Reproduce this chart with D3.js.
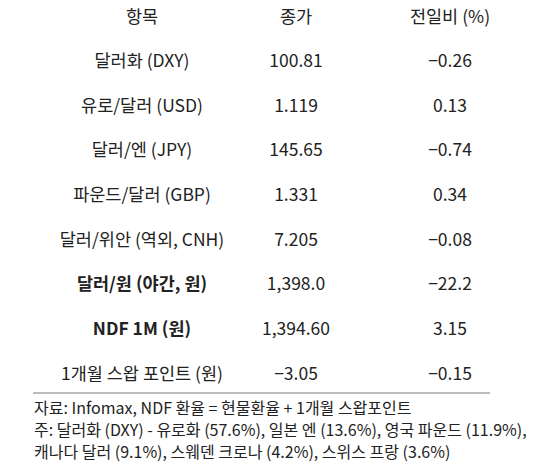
<!DOCTYPE html>
<html><head><meta charset="utf-8">
<script src="https://cdn.jsdelivr.net/npm/d3@7"></script>
<style>body{margin:0;background:#fff}</style>
</head><body><div id="chart"></div>
<script>
const headers = ["항목", "종가", "전일비 (%)"];
const items = ["달러화 (DXY)", "유로/달러 (USD)", "달러/엔 (JPY)", "파운드/달러 (GBP)", "달러/위안 (역외, CNH)", "달러/원 (야간, 원)", "NDF 1M (원)", "1개월 스왑 포인트 (원)"];
const closes = ["100.81", "1.119", "145.65", "1.331", "7.205", "1,398.0", "1,394.60", "\u22123.05"];
const changes = ["\u22120.26", "0.13", "\u22120.74", "0.34", "\u22120.08", "\u221222.2", "3.15", "\u22120.15"];
const boldRows = [5, 6];
const notes = [
	"자료: Infomax, NDF 환율 = 현물환율 + 1개월 스왑포인트",
	"주: 달러화 (DXY) - 유로화 (57.6%), 일본 엔 (13.6%), 영국 파운드 (11.9%),",
	"캐나다 달러 (9.1%), 스웨덴 크로나 (4.2%), 스위스 프랑 (3.6%)"
];

const width = 550, height = 462;
const svg = d3.select("#chart").append("svg")
	.attr("width", width).attr("height", height)
	.style("font-family", "'Noto Sans CJK KR', sans-serif");

const x = d3.scalePoint().domain([0, 1, 2]).range([142, 450]);
const y = d3.scaleLinear().domain([0, 8]).range([15, 372]);

svg.selectAll(".hdr").data(headers).join("text")
	.attr("x", (d, i) => x(i)).attr("y", y(0))
	.attr("text-anchor", "middle").attr("dominant-baseline", "central")
	.attr("font-size", 17.5).attr("fill", "#222").text(d => d);

const rows = items.map((d, i) => [d, closes[i], changes[i]]);
rows.forEach((r, ri) => {
	svg.selectAll(".r" + ri).data(r).join("text")
		.attr("x", (d, i) => x(i)).attr("y", y(ri + 1))
		.attr("text-anchor", "middle").attr("dominant-baseline", "central")
		.attr("font-size", 17.5).attr("fill", "#222")
		.attr("font-weight", (d, i) => boldRows.includes(ri) && i === 0 ? "bold" : "normal")
		.text(d => d);
});

svg.append("line").attr("x1", 33).attr("x2", 490).attr("y1", 393).attr("y2", 393)
	.attr("stroke", "#bbb").attr("stroke-width", 2);

svg.selectAll(".note").data(notes).join("text")
	.attr("x", 34).attr("y", (d, i) => 407 + i * 22)
	.attr("dominant-baseline", "central")
	.attr("font-size", 16).attr("fill", "#222").text(d => d);
</script></body></html>
